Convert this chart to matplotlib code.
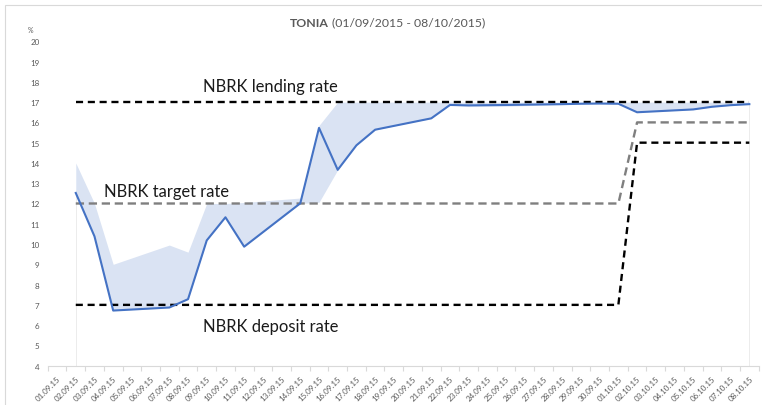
import matplotlib
matplotlib.use('Agg')
import matplotlib.pyplot as plt
from matplotlib.patches import Rectangle
from matplotlib.ticker import FixedLocator

# ======================================
# DATA
# ======================================
all_days = ['01.09.15', '02.09.15', '03.09.15', '04.09.15', '05.09.15', '06.09.15', '07.09.15',
            '08.09.15', '09.09.15', '10.09.15', '11.09.15', '12.09.15', '13.09.15', '14.09.15',
            '15.09.15', '16.09.15', '17.09.15', '18.09.15', '19.09.15', '20.09.15', '21.09.15',
            '22.09.15', '23.09.15', '24.09.15', '25.09.15', '26.09.15', '27.09.15', '28.09.15',
            '29.09.15', '30.09.15', '01.10.15', '02.10.15', '03.10.15', '04.10.15', '05.10.15',
            '06.10.15', '07.10.15', '08.10.15']

# trading days only (weekends / holiday have no fixing)
trade_days = ['02.09.15', '03.09.15', '04.09.15', '07.09.15', '08.09.15', '09.09.15', '10.09.15',
              '11.09.15', '14.09.15', '15.09.15', '16.09.15', '17.09.15', '18.09.15', '21.09.15',
              '22.09.15', '23.09.15', '25.09.15', '28.09.15', '29.09.15', '30.09.15', '01.10.15',
              '02.10.15', '05.10.15', '06.10.15', '07.10.15', '08.10.15']

tonia     = [12.52, 10.38, 6.72, 6.87, 7.28, 10.18, 11.32, 9.87, 12.01, 15.73, 13.66, 14.87, 15.64,
             16.20, 16.86, 16.84, 16.86, 16.90, 16.92, 16.93, 16.92, 16.50, 16.64, 16.77, 16.85, 16.90]
rate_min  = [12.52, 10.38, 6.72, 6.87, 7.28, 10.18, 11.32, 9.87, 12.00, 12.06, 13.66, 14.87, 15.64,
             16.20, 16.86, 16.78, 16.80, 16.88, 16.92, 16.93, 16.92, 16.50, 16.64, 16.77, 16.85, 16.90]
rate_max  = [14.00, 12.00, 9.00, 9.95, 9.60, 12.00, 12.00, 12.05, 12.27, 15.85, 17.00, 17.00, 17.00,
             17.00, 17.00, 17.00, 17.00, 17.00, 17.00, 17.00, 17.00, 17.00, 17.00, 17.00, 17.00, 17.00]
lending   = [17] * 26
target    = [12] * 21 + [16] * 5
deposit   = [7] * 21 + [15] * 5

title_bold = 'TONIA'
title_rest = '(01/09/2015 - 08/10/2015)'

x = [all_days.index(d) for d in trade_days]

# ======================================
# STYLE
# ======================================
plt.rcParams['font.family'] = ['Lato', 'DejaVu Sans']
GREY_TXT = '#595959'
AXIS_CLR = '#d9d9d9'

fig = plt.figure(figsize=(7.62, 4.06), dpi=100)
fig.patch.set_facecolor('white')

# chart border (cut off on right / bottom like the screenshot)
fig.patches.append(Rectangle((5 / 762, -0.1), 1.2, 1 - 6 / 406 + 0.1, transform=fig.transFigure,
                             fill=False, edgecolor=AXIS_CLR, linewidth=0.8))

ax = fig.add_axes([47.7 / 762, 1 - 366.7 / 406, (758.7 - 47.7) / 762, (366.7 - 42.3) / 406])

# min-max band
ax.fill_between(x, rate_min, rate_max, color='#dae3f3', linewidth=0, zorder=1)
# faint edges of the base area
ax.plot([x[0], x[0]], [4, rate_min[0]], color='#ececec', lw=0.7, zorder=0.5)
ax.plot([x[-1], x[-1]], [4, rate_min[-1]], color='#ececec', lw=0.7, zorder=0.5)

ax.plot(x, lending, color='black', lw=1.7, linestyle=(0, (3, 2)), zorder=2)
ax.plot(x, deposit, color='black', lw=1.7, linestyle=(0, (3, 2)), zorder=2)
ax.plot(x, target, color='#7f7f7f', lw=1.7, linestyle=(0, (3.5, 2)), zorder=2)
ax.plot(x, tonia, color='#4472c4', lw=1.5, zorder=3)

ax.set_xlim(-0.5, len(all_days) - 0.5)
ax.set_ylim(4, 20)

# axes look
for s in ['left', 'right', 'top']:
    ax.spines[s].set_visible(False)
ax.spines['bottom'].set_color(AXIS_CLR)
ax.spines['bottom'].set_linewidth(0.8)

ax.set_yticks(range(4, 21))
ax.tick_params(axis='y', length=0, pad=6, labelsize=5.8, labelcolor=GREY_TXT)

ax.set_xticks(range(len(all_days)))
ax.set_xticklabels(all_days, rotation=45, ha='right', rotation_mode='anchor')
ax.tick_params(axis='x', which='major', length=0, pad=6, labelsize=5.8, labelcolor=GREY_TXT)
ax.xaxis.set_minor_locator(FixedLocator([i - 0.5 for i in range(len(all_days) + 1)]))
ax.tick_params(axis='x', which='minor', length=3.5, width=0.8, color=AXIS_CLR, direction='out')

ax.text(-0.02, 1.025, '%', transform=ax.transAxes, ha='right', va='bottom',
        fontsize=5, color=GREY_TXT)

# series labels
ax.text(7.78, 17.54, 'NBRK lending rate', fontsize=11.9, color='#1a1a1a', va='baseline')
ax.text(2.52, 12.37, 'NBRK target rate', fontsize=11.9, color='#1a1a1a', va='baseline')
ax.text(7.78, 5.73, 'NBRK deposit rate', fontsize=11.9, color='#1a1a1a', va='baseline')

# title
fig.text(290 / 762, 1 - 26.7 / 406, title_bold, fontsize=8.8, fontweight='bold',
         color=GREY_TXT, va='baseline', ha='left')
fig.text(331.5 / 762, 1 - 26.7 / 406, title_rest, fontsize=8.8,
         color=GREY_TXT, va='baseline', ha='left')

fig.savefig('out.png', dpi=100)
